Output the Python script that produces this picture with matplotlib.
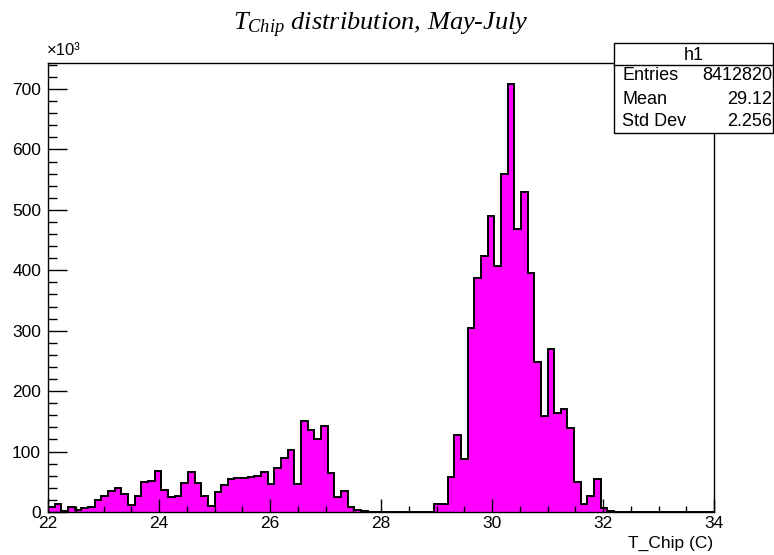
import matplotlib.pyplot as plt
import numpy as np
from matplotlib.ticker import MultipleLocator
from matplotlib.patches import Rectangle
from matplotlib.lines import Line2D

# bin range of the histogram (100 bins, 22-34 C)
x_min, x_max, n_bins = 22, 34, 100

# bin contents, in thousands of entries
counts_low = [8, 14, 1, 8, 3, 6, 8, 20, 26, 35,
              39, 30, 11, 26, 49, 52, 68, 36, 25, 27,
              48, 66, 48, 27, 10, 33, 45, 54, 56, 57,
              58, 59, 66, 47, 73, 90, 102, 47, 150, 135,
              120, 143, 65, 24, 34, 8, 3, 1.5, 0.5, 0]
counts_high = [0, 0, 0, 0, 0, 0, 0, 0, 13, 13,
               58, 127, 87, 305, 388, 424, 490, 407, 560, 708,
               468, 529, 396, 248, 159, 269, 163, 170, 139, 49,
               14, 26, 54, 6, 1.5, 0, 0, 0, 0, 0,
               0, 0, 0, 0, 0, 0, 0, 0, 0, 0]
counts = np.array(counts_low + counts_high)

# stats box texts
stat_names = ["Entries", "Mean", "Std Dev"]
stat_values = ["8412820", "29.12", "2.256"]

plt.rcParams['font.family'] = ['Liberation Sans', 'DejaVu Sans']
plt.rcParams['mathtext.fontset'] = 'custom'
plt.rcParams['mathtext.it'] = 'Liberation Serif:italic'
plt.rcParams['mathtext.rm'] = 'Liberation Serif:italic'

W, H = 774, 555
fig = plt.figure(figsize=(W / 100, H / 100), dpi=100)
ax = fig.add_axes([48 / W, 1 - 512 / H, (714 - 48) / W, (512 - 63) / H])

edges = np.linspace(x_min, x_max, n_bins + 1)
ax.stairs(counts, edges, fill=True, color='#ff00ff', linewidth=0)
ax.stairs(counts, edges, color='black', linewidth=1.4, baseline=0)

ax.set_xlim(x_min, x_max)
ax.set_ylim(0, 743)

ax.xaxis.set_major_locator(MultipleLocator(2))
ax.xaxis.set_minor_locator(MultipleLocator(0.5))
ax.yaxis.set_major_locator(MultipleLocator(100))
ax.yaxis.set_minor_locator(MultipleLocator(20))

ax.tick_params(axis='x', which='major', direction='in', length=9.5, width=1.0,
               labelsize=12.5, pad=3, colors='black')
ax.tick_params(axis='x', which='minor', direction='in', length=4.5, width=1.0)
ax.tick_params(axis='y', which='major', direction='in', length=14, width=1.0,
               labelsize=12.5, pad=5)
ax.tick_params(axis='y', which='minor', direction='in', length=6.5, width=1.0)
for s in ax.spines.values():
    s.set_linewidth(1.0)

# title with subscript
fig.text(381 / W, 1 - 25 / H, r'$T_{Chip}$ distribution, May-July',
         family='Liberation Serif', style='italic', fontsize=19,
         ha='center', va='center')

fig.text(47 / W, 1 - 55 / H, '×10³', fontsize=12, ha='left', va='baseline')
fig.text(713 / W, 1 - 543 / H, 'T_Chip (C)', fontsize=12.5, ha='right', va='center')

# stats box
bx0, bx1, by0, by1, hy = 614, 773, 133, 43, 65
fig.patches.append(Rectangle((bx0 / W, 1 - by0 / H), (bx1 - bx0) / W, (by0 - by1) / H,
                             transform=fig.transFigure, facecolor='white',
                             edgecolor='black', linewidth=1.0, zorder=5))
fig.lines.append(Line2D([bx0 / W, bx1 / W], [1 - hy / H, 1 - hy / H],
                        transform=fig.transFigure, color='black', linewidth=1.0, zorder=6))
fig.text((bx0 + bx1) / 2 / W, 1 - 55 / H, 'h1', fontsize=13, ha='center', va='center', zorder=7)
row_y = [76, 99, 121]
for name, val, yy in zip(stat_names, stat_values, row_y):
    fig.text(622 / W, 1 - yy / H, name, fontsize=13, ha='left', va='center', zorder=7)
    fig.text(772 / W, 1 - yy / H, val, fontsize=13, ha='right', va='center', zorder=7)

fig.savefig('out.png', dpi=100)
